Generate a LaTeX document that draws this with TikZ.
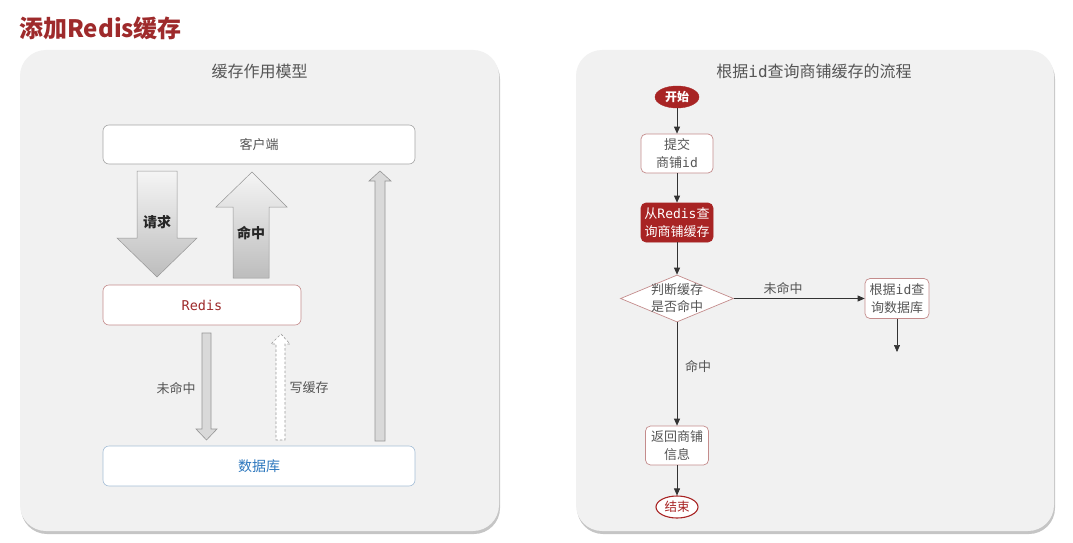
\documentclass[tikz,border=0pt]{standalone}
\usepackage{fontspec}
\setmainfont{Noto Sans CJK SC}
\newfontfamily\monof{DejaVu Sans Mono}
\usetikzlibrary{shapes.geometric,arrows.meta,shadows}
\definecolor{titlered}{RGB}{158,42,43}
\definecolor{darkred}{RGB}{168,36,36}
\definecolor{pinkb}{RGB}{196,140,140}
\definecolor{panelbg}{RGB}{241,241,241}
\definecolor{txtgray}{RGB}{85,85,85}
\definecolor{dbblue}{RGB}{46,120,190}
\definecolor{dbborder}{RGB}{165,190,215}
\definecolor{arrgray}{RGB}{150,150,150}
\begin{document}
\begin{tikzpicture}[x=1pt,y=-1pt,
  panel/.style={fill=panelbg, draw=none, rounded corners=26pt,
    drop shadow={shadow xshift=1pt, shadow yshift=-3pt, opacity=0.45, fill=gray}},
  wbox/.style={draw=gray!70, fill=white, rounded corners=6pt, line width=0.6pt,
    inner sep=0pt, text=txtgray, font=\fontsize{13}{15}\selectfont},
  fbox/.style={draw=pinkb, fill=white, rounded corners=5pt, line width=0.7pt,
    inner sep=0pt, align=center, text=txtgray, font=\fontsize{13}{18}\selectfont},
  lbl/.style={text=txtgray, font=\fontsize{13}{15}\selectfont, inner sep=0pt},
  flow/.style={-{Triangle[length=7pt,width=6pt]}, draw=black!80, line width=0.7pt},
  bigarr/.style={top color=gray!8, bottom color=gray!52, draw=arrgray, line width=0.5pt},
  thinarr/.style={fill=gray!30, draw=arrgray, line width=0.6pt}
]
\useasboundingbox (0,0) rectangle (1073,543);
\fill[white] (0,0) rectangle (1073,543);

% main title
\node[anchor=west, text=titlered, font=\fontsize{24}{28}\selectfont\bfseries, inner sep=0pt] (title) at (19,28) {添加Redis缓存};

% panels
\path[panel] (20,50) rectangle (499,531);
\path[panel] (576,50) rectangle (1054,531);

% ---------- left panel ----------
\node[text=txtgray, font=\fontsize{16}{18}\selectfont, inner sep=0pt] (ltitle) at (259.5,71) {缓存作用模型};

\node[wbox, minimum width=312pt, minimum height=39pt] (client) at (259,144.5) {客户端};
\node[wbox, draw=pinkb, minimum width=198pt, minimum height=40pt, text=titlered, font=\monof\fontsize{13.5}{15}\selectfont] (redis) at (202,305) {Redis};
\node[wbox, draw=dbborder, minimum width=312pt, minimum height=40pt, text=dbblue, font=\fontsize{14}{16}\selectfont] (db) at (259,466) {数据库};

% big request arrow (down)
\shade[bigarr] (137,171) -- (177,171) -- (177,238) -- (197,238) -- (157,277) -- (117,238) -- (137,238) -- cycle;
\node[font=\fontsize{14}{16}\selectfont\bfseries, text=black!85, inner sep=0pt] (req) at (157,222) {请求};
% big hit arrow (up)
\shade[bigarr] (252,172) -- (287,207) -- (269,207) -- (269,278) -- (233,278) -- (233,207) -- (216,207) -- cycle;
\node[font=\fontsize{14}{16}\selectfont\bfseries, text=black!85, inner sep=0pt] (hit) at (251,233) {命中};
% long thin arrow (db -> client)
\path[thinarr] (380,171) -- (391,181) -- (385,181) -- (385,441) -- (375,441) -- (375,181) -- (369,181) -- cycle;
% miss arrow (redis -> db)
\path[thinarr] (202,333) -- (211,333) -- (211,429) -- (217,429) -- (206.5,440) -- (196,429) -- (202,429) -- cycle;
\node[lbl] (missl) at (176,388) {未命中};
% write cache dashed arrow (db -> redis)
\path[fill=white, draw=gray!80, line width=0.6pt, dash pattern=on 2.5pt off 2pt] (281,334) -- (290,344) -- (285,344) -- (285,440) -- (276,440) -- (276,344) -- (271,344) -- cycle;
\node[lbl] (wcl) at (309,388) {写缓存};

% ---------- right panel ----------
\node[text=txtgray, font=\fontsize{16}{18}\selectfont, inner sep=0pt] (rtitle) at (814,71) {根据{\monof id}查询商铺缓存的流程};

\node[ellipse, fill=darkred, draw=darkred, minimum width=44pt, minimum height=22pt, inner sep=0pt,
  text=white, font=\fontsize{12}{14}\selectfont\bfseries] (start) at (677,97) {开始};
\node[fbox, minimum width=72pt, minimum height=39pt] (submit) at (677,153.5) {提交\\商铺{\monof id}};
\node[fbox, fill=darkred, draw=darkred, text=white, minimum width=72pt, minimum height=39pt, font=\fontsize{13}{18}\selectfont] (query) at (677,222.5) {从{\monof Redis}查\\询商铺缓存};
\node[diamond, draw=pinkb, fill=white, line width=0.7pt, minimum width=113pt, minimum height=47pt, inner sep=0pt] (judge) at (677,298.5) {};
\node[align=center, text=txtgray, font=\fontsize{13}{17}\selectfont, inner sep=0pt] (judget) at (677,298) {判断缓存\\是否命中};
\node[fbox, minimum width=64pt, minimum height=40pt] (dbq) at (897,298.5) {根据{\monof id}查\\询数据库};
\coordinate (dbqend) at (897,352);
\node[fbox, minimum width=63pt, minimum height=39pt] (ret) at (677,445.5) {返回商铺\\信息};
\node[ellipse, fill=white, draw=darkred, line width=1.1pt, minimum width=42pt, minimum height=22pt, inner sep=0pt,
  text=darkred, font=\fontsize{12.5}{14}\selectfont] (end) at (677,507) {结束};

\draw[flow] (start) -- (submit);
\draw[flow] (submit) -- (query);
\draw[flow] (query) -- (judge);
\draw[flow] (judge.east) -- (dbq.west);
\node[lbl] (missr) at (783,288) {未命中};
\draw[flow] (dbq.south) -- (dbqend);
\draw[flow] (judge.south) -- (ret.north);
\node[lbl] (hitr) at (698,366) {命中};
\draw[flow] (ret) -- (end);
\end{tikzpicture}
\end{document}
